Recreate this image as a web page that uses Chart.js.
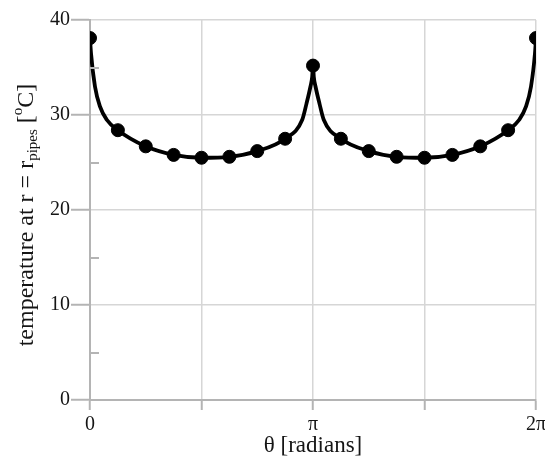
<!DOCTYPE html>
<html>
<head>
<meta charset="utf-8">
<script src="https://cdn.jsdelivr.net/npm/chart.js@4.4.1/dist/chart.umd.min.js"></script>
<style>
  html, body { margin: 0; padding: 0; background: #fff; }
  #wrap { width: 545px; height: 460px; }
</style>
</head>
<body>
<div id="wrap"><canvas id="chart"></canvas></div>
<script>
const PI = Math.PI;

// sampled points (every pi/8), given in eighths of pi
const markerEighths = [0, 1, 2, 3, 4, 5, 6, 7, 8, 9, 10, 11, 12, 13, 14, 15, 16];
const markerTemp = [38.1, 28.4, 26.7, 25.8, 25.5, 25.6, 26.2, 27.5, 35.2, 27.5, 26.2, 25.6, 25.5, 25.8, 26.7, 28.4, 38.1];

// continuous solution curve (radians / degC)
const curveTheta = [0, 0.014, 0.07, 0.14, 0.236, 0.393, 0.785, 1.178, 1.571, 1.963, 2.356, 2.749,
  2.99, 3.05, 3.106, 3.13, 3.1416, 3.153, 3.177, 3.233, 3.293,
  3.534, 3.927, 4.320, 4.712, 5.105, 5.498, 5.890, 6.047, 6.143, 6.213, 6.269, 6.2832];
const curveTemp = [38.1, 36.5, 33.0, 30.9, 29.5, 28.4, 26.7, 25.8, 25.5, 25.6, 26.2, 27.5,
  29.5, 31.2, 33.0, 34.0, 35.2, 34.0, 33.0, 31.2, 29.5,
  27.5, 26.2, 25.6, 25.5, 25.8, 26.7, 28.4, 29.5, 30.9, 33.0, 36.5, 38.1];

const xTicks = [0, PI / 2, PI, 3 * PI / 2, 2 * PI];
const xTickLabels = ['0', '', 'π', '', '2π'];
const yTicks = [0, 10, 20, 30, 40];
const yMinorTicks = [5, 15, 25, 35];

const serif = '"Liberation Serif", "DejaVu Serif", serif';
const textColor = '#151515';
const gridColor = '#d6d6d6';
const axisColor = '#b4b4b4';

// rotated y title with subscript / superscript
const yTitlePlugin = {
  id: 'yTitle',
  afterDraw(chart) {
    const ctx = chart.ctx;
    const parts = [
      { t: 'temperature at r = r', size: 24, dy: 0 },
      { t: 'pipes', size: 15, dy: 6 },
      { t: ' [', size: 24, dy: 0 },
      { t: 'o', size: 15, dy: -9 },
      { t: 'C]', size: 24, dy: 0 }
    ];
    let total = 0;
    parts.forEach(p => {
      ctx.font = p.size + 'px ' + serif;
      p.w = ctx.measureText(p.t).width;
      total += p.w;
    });
    ctx.save();
    ctx.translate(26, 215);
    ctx.rotate(-PI / 2);
    ctx.fillStyle = textColor;
    ctx.textBaseline = 'middle';
    let x = -total / 2;
    parts.forEach(p => {
      ctx.font = p.size + 'px ' + serif;
      ctx.fillText(p.t, x, p.dy + 1);
      x += p.w;
    });
    ctx.restore();
  }
};

// short inner ticks on the y axis
const minorTickPlugin = {
  id: 'minorTicks',
  afterDraw(chart) {
    const ctx = chart.ctx;
    const y = chart.scales.y;
    const left = chart.chartArea.left;
    ctx.save();
    ctx.strokeStyle = axisColor;
    ctx.lineWidth = 2;
    yMinorTicks.forEach(v => {
      const py = Math.round(y.getPixelForValue(v));
      ctx.beginPath();
      ctx.moveTo(left, py);
      ctx.lineTo(left + 9, py);
      ctx.stroke();
    });
    ctx.restore();
  }
};

new Chart(document.getElementById('chart'), {
  type: 'scatter',
  data: {
    datasets: [
      {
        type: 'line',
        data: curveTheta.map((t, i) => ({ x: t, y: curveTemp[i] })),
        borderColor: '#000',
        borderWidth: 3.8,
        pointRadius: 0,
        cubicInterpolationMode: 'monotone',
        fill: false
      },
      {
        data: markerEighths.map((e, i) => ({ x: e * PI / 8, y: markerTemp[i] })),
        backgroundColor: '#000',
        borderColor: '#000',
        pointRadius: 6.5,
        pointHoverRadius: 6.5
      }
    ]
  },
  options: {
    responsive: true,
    maintainAspectRatio: false,
    animation: false,
    events: [],
    layout: { padding: { left: 0, right: 9, top: 20, bottom: 0 } },
    plugins: { legend: { display: false }, tooltip: { enabled: false } },
    scales: {
      x: {
        type: 'linear',
        min: 0,
        max: 2 * PI,
        afterBuildTicks(scale) { scale.ticks = xTicks.map(v => ({ value: v })); },
        afterFit(scale) {
          scale.height = 60;
          // let the "2π" label hang past the plot edge
          scale.paddingLeft = 0;
          scale.paddingRight = 0;
        },
        ticks: {
          autoSkip: false,
          maxRotation: 0,
          padding: 3,
          color: textColor,
          font: { family: serif, size: 20 },
          callback: (v, i) => xTickLabels[i]
        },
        grid: { color: gridColor, lineWidth: 1.5, tickLength: 10, tickColor: axisColor, tickWidth: 2 },
        border: { color: axisColor, width: 2 },
        title: {
          display: true,
          text: 'θ [radians]',
          color: textColor,
          font: { family: serif, size: 23 },
          padding: { top: 0, bottom: 0 }
        }
      },
      y: {
        min: 0,
        max: 40,
        afterBuildTicks(scale) { scale.ticks = yTicks.map(v => ({ value: v })); },
        afterFit(scale) { scale.width = 90; },
        ticks: {
          padding: 1,
          color: textColor,
          font: { family: serif, size: 20 }
        },
        grid: { color: gridColor, lineWidth: 1.5, tickLength: 19, tickColor: axisColor, tickWidth: 2 },
        border: { color: axisColor, width: 2 }
      }
    }
  },
  plugins: [yTitlePlugin, minorTickPlugin]
});
</script>
</body>
</html>
